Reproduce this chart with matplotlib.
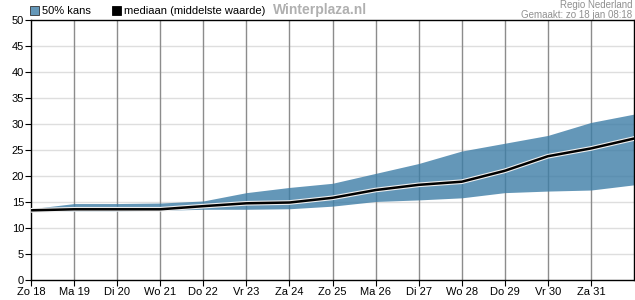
import matplotlib
matplotlib.use("Agg")
import matplotlib.pyplot as plt
import matplotlib.patheffects as pe
from matplotlib.patches import Rectangle

plt.rcParams['font.family'] = ['Liberation Sans', 'DejaVu Sans']

# dagen en waarden
days = ["Zo 18", "Ma 19", "Di 20", "Wo 21", "Do 22", "Vr 23", "Za 24",
        "Zo 25", "Ma 26", "Di 27", "Wo 28", "Do 29", "Vr 30", "Za 31"]
upper = [13.7, 14.7, 14.7, 14.8, 15.2, 16.8, 17.8, 18.6, 20.5, 22.4, 24.8, 26.3, 27.8, 30.3, 31.9]
median = [13.4, 13.6, 13.6, 13.6, 14.2, 14.75, 14.9, 15.8, 17.3, 18.3, 18.9, 21.0, 23.8, 25.3, 27.2]
lower = [13.2, 13.3, 13.3, 13.4, 13.6, 13.6, 13.7, 14.2, 15.1, 15.4, 15.8, 16.8, 17.1, 17.3, 18.3]

band_color = '#3d7da6'
legend_band = '#6497b8'
x = list(range(len(upper)))

fig = plt.figure(figsize=(6.35, 3.0), dpi=100)
ax = fig.add_axes([31/635, 20/300, 603/635, 260/300])

ax.fill_between(x, lower, upper, color=band_color, alpha=0.8, lw=0, zorder=2)
ax.plot(x, median, color='black', lw=1.8, zorder=3,
        path_effects=[pe.Stroke(linewidth=3.4, foreground='#eeeeee'), pe.Normal()])

ax.set_xlim(0, 14)
ax.set_ylim(0, 50)
ax.set_xticks(range(len(days)))
ax.set_xticklabels(days)
ax.set_yticks(range(0, 51, 5))
ax.tick_params(labelsize=8, length=4, width=0.8, color='black', pad=1)

for i in range(1, len(days)):
    ax.axvline(i, color='#8c8c8c', lw=1, zorder=1)
for v in range(5, 50, 5):
    ax.axhline(v, color='#dedede', lw=1, zorder=0)

for s in ax.spines.values():
    s.set_color('black')
    s.set_linewidth(1)

# legenda bovenaan
fig.patches.append(Rectangle((30/635, 1 - 15/300), 9/635, 9/300, transform=fig.transFigure,
                             facecolor=legend_band, edgecolor='#333333', lw=0.6))
fig.text(42/635, 1 - 11/300, "50% kans", fontsize=8, va='center')
fig.patches.append(Rectangle((112/635, 1 - 15/300), 9/635, 9/300, transform=fig.transFigure,
                             facecolor='black', edgecolor='black', lw=0.6))
fig.text(124/635, 1 - 11/300, "mediaan (middelste waarde)", fontsize=8, va='center')
fig.text(273/635, 1 - 10/300, "Winterplaza.nl", fontsize=10, fontweight='bold',
         color='#b0b0b0', va='center')
fig.text(632/635, 1 - 5/300, "Regio Nederland", fontsize=7, color='#909090',
         ha='right', va='center')
fig.text(632/635, 1 - 15/300, "Gemaakt: zo 18 jan 08:18", fontsize=7, color='#909090',
         ha='right', va='center')

fig.savefig("out.png", dpi=100)
